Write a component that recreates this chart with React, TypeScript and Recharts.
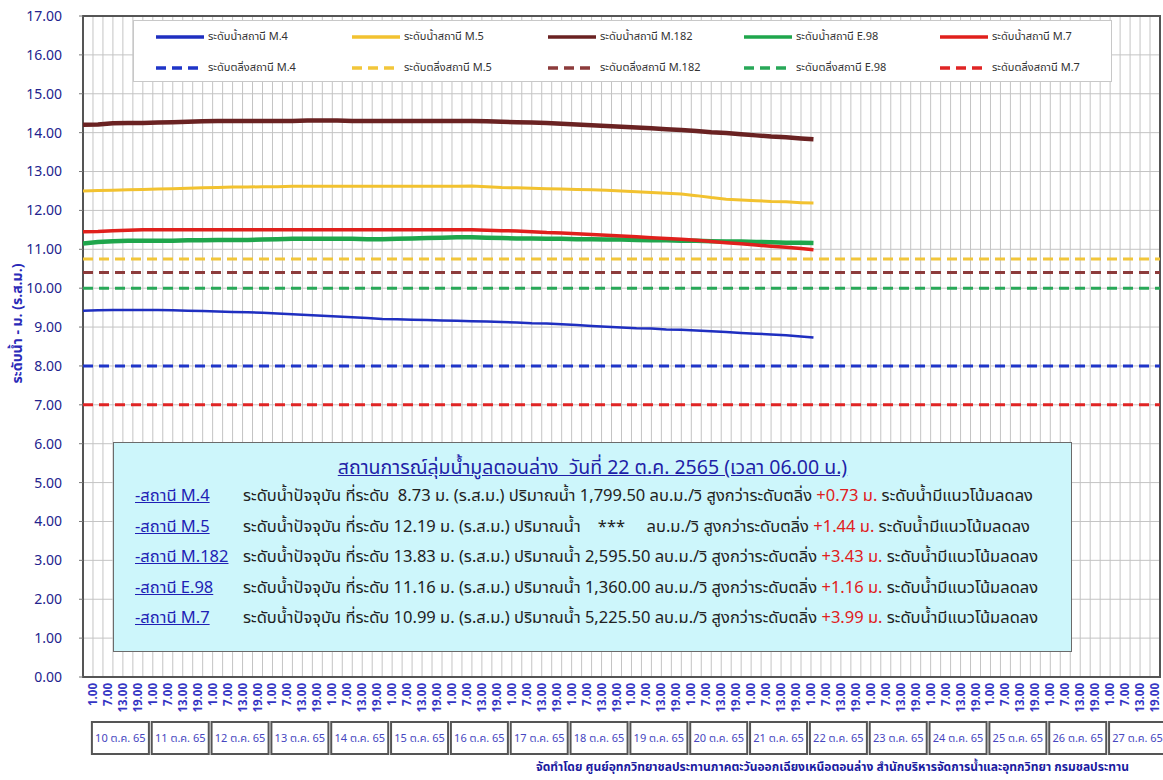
import React from "react";
import { LineChart, Line, XAxis, YAxis, CartesianGrid, ReferenceLine, ReferenceArea, Label } from "recharts";

const FONT = "Tahoma, 'Noto Sans Thai', 'Noto Sans', 'DejaVu Sans', sans-serif";

const stations = ["M.4", "M.5", "M.182", "E.98", "M.7"];
const seriesKeys = ["m4", "m5", "m182", "e98", "m7"];
const levelColors = ["#1f2fc0", "#f2c230", "#6a2222", "#1fa64c", "#e0201c"];
const bankColors = ["#1f35c8", "#f2c63a", "#8c3b3b", "#28a858", "#e02424"];
const lineWidths = [2.5, 3, 4.5, 4.5, 3.5];
const bankLevels = [8.0, 10.75, 10.4, 10.0, 7.0];
const currentLevels = [8.73, 12.19, 13.83, 11.16, 10.99];
const flows = ["1,799.50", "***", "2,595.50", "1,360.00", "5,225.50"];

const dayLabels = [
  "10 ต.ค. 65", "11 ต.ค. 65", "12 ต.ค. 65", "13 ต.ค. 65", "14 ต.ค. 65", "15 ต.ค. 65",
  "16 ต.ค. 65", "17 ต.ค. 65", "18 ต.ค. 65", "19 ต.ค. 65", "20 ต.ค. 65", "21 ต.ค. 65",
  "22 ต.ค. 65", "23 ต.ค. 65", "24 ต.ค. 65", "25 ต.ค. 65", "26 ต.ค. 65", "27 ต.ค. 65",
];
const clockLabels = ["1.00", "7.00", "13.00", "19.00"];
const clockHours = [1, 7, 13, 19];

// hours after the first reading (10 ต.ค. 65 01.00), last reading 22 ต.ค. 65 06.00
const readingHours = [
  0, 6, 12, 18, 24, 30, 36, 42, 48, 54, 60, 66, 72, 78, 84, 90, 96, 102, 108, 114,
  120, 126, 132, 138, 144, 150, 156, 162, 168, 174, 180, 186, 192, 198, 204, 210, 216, 222, 228, 234,
  240, 246, 252, 258, 264, 270, 276, 282, 288, 293,
];

const m4 = [
  9.42, 9.43, 9.44, 9.44, 9.44, 9.44, 9.43, 9.42, 9.41, 9.40,
  9.39, 9.38, 9.37, 9.35, 9.33, 9.31, 9.29, 9.27, 9.25, 9.23,
  9.21, 9.20, 9.19, 9.18, 9.17, 9.16, 9.15, 9.14, 9.13, 9.12,
  9.10, 9.09, 9.07, 9.05, 9.03, 9.01, 8.99, 8.97, 8.96, 8.94,
  8.93, 8.91, 8.89, 8.87, 8.85, 8.83, 8.81, 8.79, 8.76, 8.73,
];
const m5 = [
  12.50, 12.51, 12.52, 12.53, 12.54, 12.55, 12.56, 12.57, 12.58, 12.59,
  12.60, 12.60, 12.61, 12.61, 12.62, 12.62, 12.62, 12.62, 12.62, 12.62,
  12.62, 12.62, 12.62, 12.62, 12.62, 12.62, 12.63, 12.61, 12.59, 12.58,
  12.57, 12.56, 12.55, 12.54, 12.53, 12.52, 12.50, 12.48, 12.46, 12.44,
  12.42, 12.38, 12.33, 12.29, 12.27, 12.25, 12.23, 12.22, 12.20, 12.19,
];
const m182 = [
  14.20, 14.21, 14.24, 14.25, 14.25, 14.26, 14.27, 14.28, 14.29, 14.30,
  14.30, 14.30, 14.30, 14.30, 14.30, 14.31, 14.31, 14.31, 14.30, 14.30,
  14.30, 14.30, 14.30, 14.30, 14.30, 14.30, 14.30, 14.29, 14.28, 14.27,
  14.26, 14.25, 14.23, 14.21, 14.19, 14.17, 14.15, 14.13, 14.11, 14.09,
  14.07, 14.04, 14.01, 13.99, 13.96, 13.93, 13.90, 13.88, 13.85, 13.83,
];
const e98 = [
  11.15, 11.19, 11.21, 11.22, 11.22, 11.22, 11.22, 11.23, 11.23, 11.24,
  11.24, 11.24, 11.25, 11.26, 11.27, 11.27, 11.27, 11.27, 11.27, 11.26,
  11.26, 11.27, 11.28, 11.29, 11.30, 11.31, 11.31, 11.30, 11.29, 11.28,
  11.28, 11.27, 11.27, 11.26, 11.26, 11.25, 11.25, 11.24, 11.23, 11.23,
  11.22, 11.22, 11.21, 11.20, 11.20, 11.19, 11.18, 11.17, 11.17, 11.16,
];
const m7 = [
  11.45, 11.46, 11.48, 11.49, 11.50, 11.50, 11.50, 11.50, 11.50, 11.50,
  11.50, 11.50, 11.50, 11.50, 11.50, 11.50, 11.50, 11.50, 11.50, 11.50,
  11.50, 11.50, 11.50, 11.50, 11.50, 11.50, 11.50, 11.49, 11.48, 11.47,
  11.45, 11.43, 11.42, 11.40, 11.38, 11.36, 11.34, 11.32, 11.30, 11.28,
  11.26, 11.23, 11.20, 11.17, 11.14, 11.11, 11.08, 11.05, 11.02, 10.99,
];

const readings = readingHours.map((h, i) => ({
  h,
  m4: m4[i],
  m5: m5[i],
  m182: m182[i],
  e98: e98[i],
  m7: m7[i],
}));

// calendar axis: hours since 10 ต.ค. 65 00.00 (its own scale, like the original's secondary axis)
const CLOCK_DOMAIN: [number, number] = [-3, 429];
const clockTicks = dayLabels.flatMap((_, d) => clockHours.map((hr) => d * 24 + hr));
const dayTicks = dayLabels.map((_, d) => d * 24 + 12);
const gridTicks = Array.from({ length: 109 }, (_, k) => -3 + k * 4);
const yTicks = Array.from({ length: 18 }, (_, k) => k);

const ClockTick = (props: any) => {
  const { x, y, payload } = props;
  const idx = clockHours.indexOf(((payload.value % 24) + 24) % 24);
  return (
    <text
      x={x}
      y={y}
      dy="0.35em"
      transform={`rotate(-90, ${x}, ${y})`}
      textAnchor="end"
      fill="#3535c4"
      fontSize={11.5}
      fontWeight="bold"
      fontFamily={FONT}
    >
      {clockLabels[idx]}
    </text>
  );
};

const DayTick = (props: any) => {
  const { x, y, payload } = props;
  const d = Math.round((payload.value - 12) / 24);
  const w = 57;
  return (
    <g>
      <rect x={x - w / 2} y={y + 1} width={w} height={32} fill="#fff" stroke="#555" strokeWidth={2} />
      <text x={x} y={y + 17} dy="0.35em" textAnchor="middle" fill="#4646c0" fontSize={11} fontFamily={FONT}>
        {dayLabels[d]}
      </text>
    </g>
  );
};

const YTitle = (props: any) => {
  const { x, y, height } = props.viewBox;
  const cx = x + 17;
  const cy = y + height / 2 - 23;
  return (
    <text
      x={cx}
      y={cy}
      dy="0.35em"
      transform={`rotate(-90, ${cx}, ${cy})`}
      textAnchor="middle"
      fill="#2a2ab8"
      fontSize={14}
      fontWeight="bold"
      fontFamily={FONT}
    >
      ระดับน้ำ  -  ม. (ร.ส.ม.)
    </text>
  );
};

function LegendBox() {
  const items = [
    ...stations.map((s, i) => ({ text: `ระดับน้ำสถานี ${s}`, color: levelColors[i], dashed: false })),
    ...stations.map((s, i) => ({ text: `ระดับตลิ่งสถานี ${s}`, color: bankColors[i], dashed: true })),
  ];
  return (
    <div
      style={{
        position: "absolute",
        left: 133,
        top: 20,
        width: 979,
        height: 62,
        background: "#fff",
        border: "1px solid #c8c8c8",
        boxSizing: "border-box",
        display: "grid",
        gridTemplateColumns: "repeat(5, 196px)",
        gridTemplateRows: "31px 31px",
        paddingLeft: 22,
        fontFamily: FONT,
        fontSize: 11,
        color: "#333",
      }}
    >
      {items.map((it) => (
        <div key={it.text} style={{ display: "flex", alignItems: "center" }}>
          <svg width={48} height={8}>
            <line
              x1={0}
              y1={4}
              x2={48}
              y2={4}
              stroke={it.color}
              strokeWidth={3.5}
              strokeDasharray={it.dashed ? "10 6" : undefined}
            />
          </svg>
          <span style={{ marginLeft: 4 }}>{it.text}</span>
        </div>
      ))}
    </div>
  );
}

function InfoBox() {
  return (
    <div
      style={{
        position: "absolute",
        left: 113,
        top: 442,
        width: 959,
        height: 210,
        background: "#cdf6fb",
        border: "1.5px solid #6b6b6b",
        boxSizing: "border-box",
        fontFamily: FONT,
      }}
    >
      <div
        style={{
          position: "absolute",
          top: 10,
          left: 0,
          right: 0,
          textAlign: "center",
          fontSize: 19.5,
          color: "#1f1fa8",
          textDecoration: "underline",
          whiteSpace: "pre",
        }}
      >
        {"สถานการณ์ลุ่มน้ำมูลตอนล่าง  วันที่ 22 ต.ค. 2565 (เวลา 06.00 น.)"}
      </div>
      {stations.map((s, i) => {
        const diff = currentLevels[i] - bankLevels[i];
        const lvl = currentLevels[i].toFixed(2).padStart(5, " ");
        const flow = flows[i] === "***" ? "   ***    " : flows[i];
        return (
          <div
            key={s}
            style={{
              position: "absolute",
              left: 21,
              top: 38 + i * 30.5,
              height: 30,
              lineHeight: "30px",
              fontSize: 16.5,
              color: "#222",
              whiteSpace: "pre",
              display: "flex",
            }}
          >
            <span style={{ minWidth: 108, color: "#1f1fb5", textDecoration: "underline" }}>{`-สถานี ${s}`}</span>
            <span>
              {`ระดับน้ำปัจจุบัน ที่ระดับ ${lvl} ม. (ร.ส.ม.) ปริมาณน้ำ ${flow} ลบ.ม./วิ สูงกว่าระดับตลิ่ง `}
              <span style={{ color: "#e02020" }}>{`+${diff.toFixed(2)} ม.`}</span>
              {" ระดับน้ำมีแนวโน้มลดลง"}
            </span>
          </div>
        );
      })}
    </div>
  );
}

export default function App() {
  return (
    <div style={{ position: "relative", width: 1163, height: 780, overflow: "hidden", background: "#fff" }}>
      <style>{"body{margin:0}"}</style>
      <LineChart width={1163} height={780} data={readings} margin={{ top: 16, right: 3, bottom: 24, left: 0 }}>
        <CartesianGrid xAxisId="grid" stroke="#c4c4c4" strokeWidth={1} />
        <XAxis xAxisId="reading" type="number" dataKey="h" domain={[0, 432]} hide allowDataOverflow />
        <XAxis
          xAxisId="grid"
          type="number"
          dataKey="h"
          domain={CLOCK_DOMAIN}
          ticks={gridTicks}
          interval={0}
          hide
          allowDataOverflow
        />
        <XAxis
          xAxisId="clock"
          type="number"
          dataKey="h"
          domain={CLOCK_DOMAIN}
          ticks={clockTicks}
          interval={0}
          height={44}
          axisLine={false}
          tickLine={false}
          tickSize={0}
          tickMargin={6}
          tick={ClockTick}
          allowDataOverflow
        />
        <XAxis
          xAxisId="day"
          type="number"
          dataKey="h"
          domain={CLOCK_DOMAIN}
          ticks={dayTicks}
          interval={0}
          height={35}
          axisLine={false}
          tickLine={false}
          tickSize={0}
          tickMargin={0}
          tick={DayTick}
          allowDataOverflow
        />
        <YAxis
          domain={[0, 17]}
          ticks={yTicks}
          interval={0}
          width={83}
          tickFormatter={(v: number) => v.toFixed(2)}
          tick={{ fill: "#23238e", fontSize: 14, fontFamily: FONT }}
          axisLine={false}
          tickLine={{ stroke: "#777" }}
          tickSize={4}
          tickMargin={17}
        >
          <Label content={YTitle} />
        </YAxis>
        <ReferenceArea
          xAxisId="clock"
          x1={CLOCK_DOMAIN[0]}
          x2={CLOCK_DOMAIN[1]}
          y1={0}
          y2={17}
          fill="none"
          stroke="#555"
          strokeWidth={2}
        />
        {stations.map((s, i) => (
          <ReferenceLine
            key={`bank-${s}`}
            xAxisId="clock"
            y={bankLevels[i]}
            stroke={bankColors[i]}
            strokeWidth={3}
            strokeDasharray="10 6"
          />
        ))}
        {stations.map((s, i) => (
          <Line
            key={s}
            xAxisId="reading"
            type="linear"
            dataKey={seriesKeys[i]}
            name={`ระดับน้ำสถานี ${s}`}
            stroke={levelColors[i]}
            strokeWidth={lineWidths[i]}
            dot={false}
            isAnimationActive={false}
          />
        ))}
      </LineChart>
      <LegendBox />
      <InfoBox />
      <div
        style={{
          position: "absolute",
          left: 536,
          top: 758,
          whiteSpace: "nowrap",
          fontFamily: FONT,
          fontSize: 12,
          fontWeight: "bold",
          color: "#1a1aa0",
        }}
      >
        จัดทำโดย ศูนย์อุทกวิทยาชลประทานภาคตะวันออกเฉียงเหนือตอนล่าง สำนักบริหารจัดการน้ำและอุทกวิทยา กรมชลประทาน
      </div>
    </div>
  );
}
